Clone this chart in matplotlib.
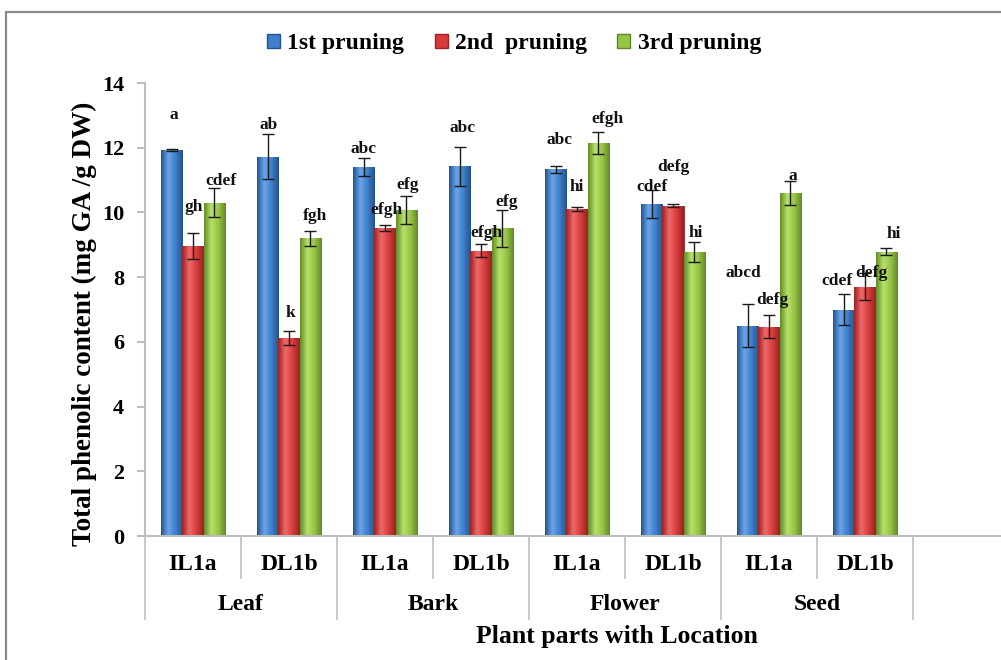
import numpy as np
import matplotlib
matplotlib.use("Agg")
import matplotlib.pyplot as plt
from matplotlib.colors import LinearSegmentedColormap
from matplotlib.patches import Patch, Rectangle

# ---- data -------------------------------------------------------------
locations = ["IL1a", "DL1b", "IL1a", "DL1b", "IL1a", "DL1b", "IL1a", "DL1b"]
plant_parts = ["Leaf", "Bark", "Flower", "Seed"]
series_names = ["1st pruning", "2nd  pruning", "3rd pruning"]

pruning1 = [11.93, 11.72, 11.41, 11.43, 11.33, 10.26, 6.50, 7.00]
pruning2 = [8.97, 6.11, 9.51, 8.82, 10.10, 10.21, 6.47, 7.70]
pruning3 = [10.30, 9.20, 10.07, 9.51, 12.15, 8.79, 10.60, 8.79]

err1 = [0.02, 0.70, 0.27, 0.60, 0.10, 0.44, 0.67, 0.49]
err2 = [0.40, 0.22, 0.09, 0.20, 0.06, 0.05, 0.35, 0.42]
err3 = [0.45, 0.23, 0.44, 0.58, 0.33, 0.31, 0.37, 0.12]

letters1 = ["a", "ab", "abc", "abc", "abc", "cdef", "abcd", "cdef"]
letters2 = ["gh", "k", "efgh", "efgh", "hi", "defg", "defg", "defg"]
letters3 = ["cdef", "fgh", "efg", "efg", "efgh", "hi", "a", "hi"]

yticks = [0, 2, 4, 6, 8, 10, 12, 14]

# ---- letter placement (layout) ----------------------------------------
letter_y = [
    [13.00, 12.70, 11.95, 12.60, 12.24, 10.80, 8.12, 7.87],
    [10.18, 6.89, 10.07, 9.35, 10.80, 11.39, 7.29, 8.12],
    [10.98, 9.89, 10.85, 10.33, 12.88, 9.35, 11.14, 9.33],
]
letter_dx = [
    [0.02, 0.01, 0.0, 0.03, 0.04, 0.0, -0.05, -0.07],
    [0.01, 0.02, 0.01, 0.06, 0.0, 0.0, 0.03, 0.07],
    [0.07, 0.05, 0.01, 0.05, 0.10, 0.01, 0.03, 0.08],
]

plt.rcParams["font.family"] = ["Liberation Serif", "DejaVu Serif"]
plt.rcParams["font.weight"] = "bold"

W, H = 1001, 660
fig = plt.figure(figsize=(W / 100, H / 100), dpi=100)
ax = fig.add_axes([145 / W, (H - 536) / H, (W - 145) / W, 453 / H])

values = [pruning1, pruning2, pruning3]
errors = [err1, err2, err3]
letters = [letters1, letters2, letters3]
base_colors = ["#3f7fcc", "#d93b3b", "#98c447"]
dark_colors = ["#24528f", "#9a2222", "#5f8a25"]
light_colors = ["#6aa6ec", "#f06a6a", "#b8e06a"]

x = np.arange(len(locations))
width = 0.222

for k in range(3):
    pos = x + (k - 1) * width
    bars = ax.bar(pos, values[k], width, color=base_colors[k],
                  edgecolor=dark_colors[k], linewidth=0.6, zorder=2,
                  yerr=errors[k], capsize=4,
                  error_kw=dict(elinewidth=1.0, capthick=1.0,
                                ecolor="#1a1a1a", zorder=4))
    cmap = LinearSegmentedColormap.from_list(
        f"g{k}", [dark_colors[k], light_colors[k], base_colors[k], dark_colors[k]])
    grad = np.linspace(0, 1, 64).reshape(1, -1)
    for patch in bars.patches:
        bb = patch.get_bbox()
        im = ax.imshow(grad, extent=[bb.x0, bb.x1, bb.y0, bb.y1],
                       aspect="auto", cmap=cmap, zorder=2.5,
                       interpolation="bicubic")
        im.set_clip_path(patch)
    for i in range(len(locations)):
        ax.text(pos[i] + letter_dx[k][i], letter_y[k][i], letters[k][i],
                ha="center", va="center", fontsize=12.5, fontweight="bold",
                color="#111111", zorder=5)

ax.set_xlim(-0.5, -0.5 + (W - 145) / 96)
ax.set_ylim(0, 14)
ax.set_yticks(yticks)
ax.set_yticklabels([str(t) for t in yticks], fontsize=16, fontweight="bold")
ax.tick_params(axis="y", length=6, width=1.2, color="#b0b0b0", pad=9)
ax.set_xticks([])

for side in ["top", "right"]:
    ax.spines[side].set_visible(False)
for side in ["left", "bottom"]:
    ax.spines[side].set_color("#bdbdbd")
    ax.spines[side].set_linewidth(1.5)

# hierarchical category axis
xt = ax.get_xaxis_transform()
line_kw = dict(color="#c4c4c4", lw=1.3, transform=xt, clip_on=False)
for b in [0.5, 2.5, 4.5, 6.5]:
    ax.plot([b, b], [0, -0.093], **line_kw)
for b in [-0.5, 1.5, 3.5, 5.5, 7.5]:
    ax.plot([b, b], [0, -0.183], **line_kw)

for i, name in enumerate(locations):
    ax.text(i, -0.064, name, transform=xt, ha="center", va="center",
            fontsize=17, fontweight="bold")
for j, name in enumerate(plant_parts):
    ax.text(2 * j + 0.5, -0.152, name, transform=xt, ha="center",
            va="center", fontsize=17, fontweight="bold")

fig.text(617 / W, (H - 636) / H, "Plant parts with Location", ha="center",
         va="center", fontsize=18.5, fontweight="bold")
fig.text(84 / W, (H - 324) / H, "Total phenolic content (mg GA /g DW)",
         rotation=90, ha="center", va="center", fontsize=19.5,
         fontweight="bold")

handles = [Patch(facecolor=base_colors[k], edgecolor=dark_colors[k])
           for k in range(3)]
fig.legend(handles, series_names, loc="center",
           bbox_to_anchor=(514 / W, (H - 44) / H), ncol=3, frameon=False,
           handlelength=0.55, handleheight=0.55, handletextpad=0.3,
           columnspacing=1.3, prop=dict(size=17, weight="bold"))

fig.patches.append(Rectangle((6 / W, -0.2), 1.2, (H - 12) / H + 0.2,
                             transform=fig.transFigure, fill=False,
                             edgecolor="#8a8a8a", linewidth=1.6))

fig.savefig("out.png", dpi=100, facecolor="white")
